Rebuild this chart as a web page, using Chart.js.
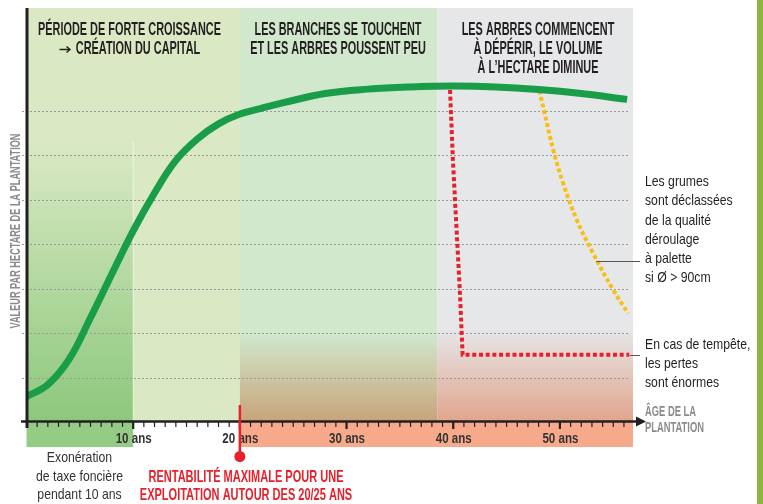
<!DOCTYPE html>
<html>
<head>
<meta charset="utf-8">
<script src="https://cdn.jsdelivr.net/npm/chart.js@4.4.0/dist/chart.umd.min.js"></script>
<style>
  html, body { margin: 0; padding: 0; background: #fff; }
  #wrap { position: relative; width: 763px; height: 504px; }
</style>
</head>
<body>
<div id="wrap"><canvas id="chart" width="763" height="504"></canvas></div>
<script>
// Values (age in years, value per hectare in grid units)
const ages = [0, 2, 4, 6, 8, 10, 12, 14, 16, 18, 20, 22, 24, 28, 32, 36, 40, 44, 48, 52, 56.3];
const growth = [0.58, 0.85, 1.42, 2.35, 3.33, 4.3, 5.15, 5.88, 6.36, 6.7, 6.92, 7.05, 7.17, 7.38, 7.48, 7.53, 7.55, 7.53, 7.47, 7.38, 7.25];

const stormAges = [39.7, 39.97, 40.3, 40.63, 40.88, 56.5];
const stormValues = [7.46, 5.89, 4.39, 2.9, 1.52, 1.52];

const gradeAges = [48.06, 48.5, 49.37, 50.3, 51.57, 53.1, 55.0, 56.4];
const gradeValues = [7.45, 7.01, 6.12, 5.37, 4.55, 3.8, 2.97, 2.45];

const tickLabels = ['10 ans', '20 ans', '30 ans', '40 ans', '50 ans'];
const tickValues = [10, 20, 30, 40, 50];

const zones = [0, 20, 38.5];
const zoneTitles = [
    ['PÉRIODE DE FORTE CROISSANCE', 'CRÉATION DU CAPITAL'],
    ['LES BRANCHES SE TOUCHENT', 'ET LES ARBRES POUSSENT PEU'],
    ['LES ARBRES COMMENCENT', 'À DÉPÉRIR, LE VOLUME', 'À L’HECTARE DIMINUE']
];
const gradeNote = ['Les grumes', 'sont déclassées', 'de la qualité', 'déroulage', 'à palette', 'si Ø > 90cm'];
const stormNote = ['En cas de tempête,', 'les pertes', 'sont énormes'];
const taxNote = ['Exonération', 'de taxe foncière', 'pendant 10 ans'];
const bestNote = ['RENTABILITÉ MAXIMALE POUR UNE', 'EXPLOITATION AUTOUR DES 20/25 ANS'];

const FONT = '"Liberation Sans", Arial, sans-serif';

function squeeze(ctx, font, sample, width) {
    ctx.font = font;
    return width / ctx.measureText(sample).width;
}

function txt(ctx, s, x, y, font, color, sx, align) {
    ctx.save();
    ctx.font = font;
    ctx.fillStyle = color;
    ctx.textBaseline = 'middle';
    ctx.textAlign = align || 'center';
    ctx.translate(x, y);
    ctx.scale(sx, 1);
    ctx.fillText(s, 0, 0);
    ctx.restore();
}

const decor = {
    id: 'decor',
    beforeDraw(chart) {
        const ctx = chart.ctx;
        ctx.save();
        ctx.fillStyle = '#fff';
        ctx.fillRect(0, 0, chart.width, chart.height);
        ctx.restore();
    },
    beforeDatasetsDraw(chart) {
        const { ctx, chartArea: a, scales: { x, y } } = chart;
        const px = v => x.getPixelForValue(v);
        const py = v => y.getPixelForValue(v);
        const base = py(0) - 1;
        const top = a.top;
        ctx.save();

        // zone 1
        ctx.fillStyle = '#dae9c4';
        ctx.fillRect(px(0), top, px(20) - px(0), base - top);
        let g = ctx.createLinearGradient(0, 142, 0, base);
        g.addColorStop(0, '#dae9c4');
        g.addColorStop(1, '#8cc87c');
        ctx.fillStyle = g;
        ctx.fillRect(px(0), 142, px(10) - px(0), base - 142);
        ctx.strokeStyle = 'rgba(255,255,255,0.6)';
        ctx.lineWidth = 1;
        ctx.beginPath();
        ctx.moveTo(px(10), 142);
        ctx.lineTo(px(10), base);
        ctx.stroke();

        // zone 2
        ctx.fillStyle = '#d1e8cd';
        ctx.fillRect(px(zones[1]), top, px(zones[2]) - px(zones[1]), base - top);
        g = ctx.createLinearGradient(0, py(2), 0, base);
        g.addColorStop(0, '#d1e8cd');
        g.addColorStop(1, '#c8a47b');
        ctx.fillStyle = g;
        ctx.fillRect(px(zones[1]), py(2), px(zones[2]) - px(zones[1]), base - py(2));

        // zone 3
        ctx.fillStyle = '#e6e7e9';
        ctx.fillRect(px(zones[2]), top, a.right - px(zones[2]), base - top);
        g = ctx.createLinearGradient(0, py(2.1), 0, base);
        g.addColorStop(0, '#e6e7e9');
        g.addColorStop(1, '#e1a58d');
        ctx.fillStyle = g;
        ctx.fillRect(px(zones[2]), py(2.1), a.right - px(zones[2]), base - py(2.1));

        // strips under the axis
        ctx.fillStyle = '#94cb85';
        ctx.fillRect(px(0), base, px(10) - px(0), 447 - base);
        ctx.fillStyle = '#f7aa8b';
        ctx.fillRect(px(20), base, a.right - px(20), 447 - base);

        // dotted grid
        ctx.strokeStyle = '#999';
        ctx.lineWidth = 1;
        ctx.setLineDash([2, 2]);
        for (let v = 1; v <= 7; v++) {
            ctx.beginPath();
            ctx.moveTo(22, Math.round(py(v)) + 0.5);
            ctx.lineTo(630, Math.round(py(v)) + 0.5);
            ctx.stroke();
        }
        ctx.restore();
    },
    afterDatasetsDraw(chart) {
        const { ctx, chartArea: a, scales: { x, y } } = chart;
        const px = v => x.getPixelForValue(v);
        const py = v => y.getPixelForValue(v);
        const base = py(0) - 1;
        ctx.save();

        // axes
        ctx.strokeStyle = '#231f20';
        ctx.fillStyle = '#231f20';
        ctx.lineWidth = 3;
        ctx.beginPath();
        ctx.moveTo(px(0) + 0.5, a.top);
        ctx.lineTo(px(0) + 0.5, 428);
        ctx.stroke();
        ctx.lineWidth = 2.5;
        ctx.beginPath();
        ctx.moveTo(21, base);
        ctx.lineTo(638, base);
        ctx.stroke();
        ctx.beginPath();
        ctx.moveTo(646, base);
        ctx.lineTo(636, base - 5);
        ctx.lineTo(636, base + 5);
        ctx.closePath();
        ctx.fill();
        for (let i = 1; i <= 56; i++) {
            const major = i % 10 === 0;
            ctx.lineWidth = major ? 2.2 : 1.2;
            ctx.beginPath();
            ctx.moveTo(px(i), base);
            ctx.lineTo(px(i), base + (major ? 7.5 : 5.5));
            ctx.stroke();
        }

        // fonts
        const fTitle = 'bold 17.5px ' + FONT;
        const sTitle = squeeze(ctx, fTitle, zoneTitles[0][0], 183);
        const fTick = 'bold 15px ' + FONT;
        const sTick = squeeze(ctx, fTick, tickLabels[0], 36);
        const fRed = 'bold 16.5px ' + FONT;
        const sRed = squeeze(ctx, fRed, bestNote[0], 195);
        const fNote = '15px ' + FONT;
        const sNote = squeeze(ctx, fNote, gradeNote[1], 87.7);
        const fGrey = 'bold 14.5px ' + FONT;
        const sGrey = squeeze(ctx, fGrey, 'PLANTATION', 59);
        const fY = 'bold 14px ' + FONT;
        const yTitle = 'VALEUR PAR HECTARE DE LA PLANTATION';
        const sY = squeeze(ctx, fY, yTitle, 195);

        // zone titles
        const titleX = [129.5, 338, 538];
        zoneTitles.forEach((lines, k) => {
            lines.forEach((s, j) => {
                const cx = (k === 0 && j === 1) ? 138 : titleX[k];
                txt(ctx, s, cx, 30.5 + j * 19, fTitle, '#231f20', sTitle);
            });
        });
        // arrow before "CRÉATION DU CAPITAL"
        ctx.strokeStyle = '#231f20';
        ctx.lineWidth = 1.4;
        ctx.beginPath();
        ctx.moveTo(59.5, 49.5);
        ctx.lineTo(70, 49.5);
        ctx.moveTo(66.5, 46.5);
        ctx.lineTo(70, 49.5);
        ctx.lineTo(66.5, 52.5);
        ctx.stroke();

        // tick labels
        tickValues.forEach((v, k) => txt(ctx, tickLabels[k], px(v) + 0.5, 439, fTick, '#333', sTick));

        // axis titles
        txt(ctx, 'ÂGE DE LA', 645, 412, fGrey, '#898b8e', sGrey, 'left');
        txt(ctx, 'PLANTATION', 645, 428, fGrey, '#898b8e', sGrey, 'left');
        ctx.save();
        ctx.translate(16.5, 231);
        ctx.rotate(-Math.PI / 2);
        txt(ctx, yTitle, 0, 0, fY, '#898b8e', sY);
        ctx.restore();

        // notes under the axis
        taxNote.forEach((s, j) => txt(ctx, s, 79.5, 458 + j * 18.6, fNote, '#333', sNote));
        bestNote.forEach((s, j) => txt(ctx, s, 246, 477 + j * 18.4, fRed, '#e8202a', sRed));

        // best age marker
        ctx.strokeStyle = '#e8202a';
        ctx.fillStyle = '#e8202a';
        ctx.lineWidth = 2.5;
        ctx.beginPath();
        ctx.moveTo(px(20), 405);
        ctx.lineTo(px(20), 456);
        ctx.stroke();
        ctx.beginPath();
        ctx.arc(px(20), 456.5, 5.5, 0, Math.PI * 2);
        ctx.fill();

        // right notes
        ctx.strokeStyle = '#555';
        ctx.lineWidth = 1;
        ctx.beginPath();
        ctx.moveTo(px(53.4), Math.round(py(3.63)) + 0.5);
        ctx.lineTo(640, Math.round(py(3.63)) + 0.5);
        ctx.moveTo(630, Math.round(py(1.52)) + 0.5);
        ctx.lineTo(640, Math.round(py(1.52)) + 0.5);
        ctx.stroke();
        gradeNote.forEach((s, j) => txt(ctx, s, 645, 182 + j * 19.2, fNote, '#231f20', sNote, 'left'));
        stormNote.forEach((s, j) => txt(ctx, s, 645, 344.5 + j * 19, fNote, '#231f20', sNote, 'left'));

        // green edge strip
        ctx.fillStyle = '#8db53d';
        ctx.fillRect(757, 0, 6, chart.height);
        ctx.restore();
    }
};

const toPoints = (xs, ys) => xs.map((v, i) => ({ x: v, y: ys[i] }));

new Chart(document.getElementById('chart'), {
    type: 'line',
    data: {
        datasets: [
            {
                label: 'Valeur',
                data: toPoints(ages, growth),
                borderColor: '#1a9d49',
                borderWidth: 7,
                tension: 0.4,
                pointRadius: 0
            },
            {
                label: 'Tempête',
                data: toPoints(stormAges, stormValues),
                borderColor: '#e8202a',
                borderWidth: 4,
                borderDash: [4, 2.7],
                borderCapStyle: 'butt',
                tension: 0,
                pointRadius: 0
            },
            {
                label: 'Déclassement',
                data: toPoints(gradeAges, gradeValues),
                borderColor: '#fbbd10',
                borderWidth: 4,
                borderDash: [4, 2.7],
                borderCapStyle: 'butt',
                tension: 0.4,
                pointRadius: 0
            }
        ]
    },
    options: {
        responsive: false,
        animation: false,
        devicePixelRatio: 1,
        layout: {
            padding: { left: 26.5, right: 130, top: 8, bottom: 81.5 }
        },
        plugins: {
            legend: { display: false },
            tooltip: { enabled: false }
        },
        scales: {
            x: { type: 'linear', min: 0, max: 56.85, display: false },
            y: { min: 0, max: 9.3, display: false }
        }
    },
    plugins: [decor]
});
</script>
</body>
</html>
